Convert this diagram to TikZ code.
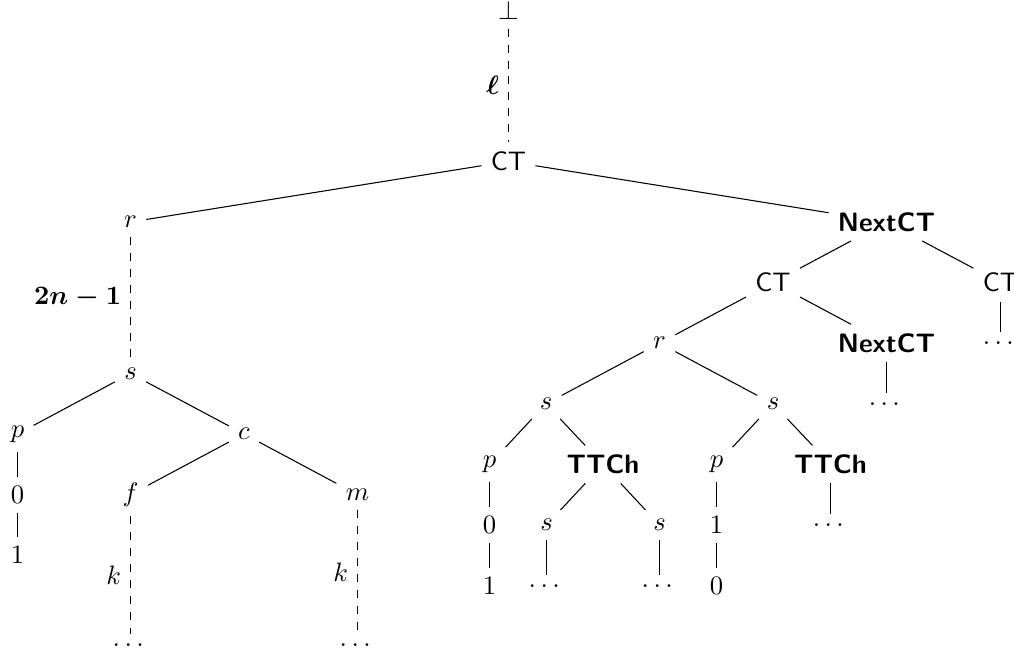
\documentclass[tikz,border=0pt]{standalone}
\usepackage{amsmath}
\newcommand{\tdots}{.\kern\fontdimen3\font.\kern\fontdimen3\font.\kern\fontdimen3\font}
\begin{document}
\begin{tikzpicture}[x=0.3755pt,y=-0.3755pt,
  sf/.style={font=\sffamily},
  bsf/.style={font=\sffamily\bfseries},
  dedge/.style={dashed},
  lab/.style={midway,left}]
\useasboundingbox (0,0) rectangle (1014,653);
% left part
\node (bot) at (508.5,9.9) {$\bot$};
\node[sf] (ct0) at (508.5,161.4) {CT};
\node (r1) at (130.5,222) {$r$};
\node[bsf] (nct1) at (886.5,222) {NextCT};
\node (s1) at (130.5,373.5) {$s$};
\node (p1) at (17.5,434) {$p$};
\node (c1) at (244,434) {$c$};
\node (z1) at (17.5,494.6) {$0$};
\node (o1) at (17.5,555.2) {$1$};
\node (f1) at (130.5,494.6) {$f$};
\node (m1) at (357.5,494.6) {$m$};
\node (d1) at (130.5,645) {\tdots};
\node (d2) at (357.5,645) {\tdots};
% right part
\node[sf] (ct2) at (773,282.6) {CT};
\node[sf] (ct3) at (1000.5,282.6) {CT};
\node (r2) at (659.5,343.2) {$r$};
\node[bsf] (nct2) at (886.5,343.2) {NextCT};
\node (d3) at (1000.5,343.2) {\tdots};
\node (s2) at (546,403.8) {$s$};
\node (s3) at (773,403.8) {$s$};
\node (d4) at (886.5,403.8) {\tdots};
\node (p2) at (489.5,464.4) {$p$};
\node[bsf] (t1) at (603,464.4) {TTCh};
\node (p3) at (716.5,464.4) {$p$};
\node[bsf] (t2) at (830.5,464.4) {TTCh};
\node (z2) at (489.5,525) {$0$};
\node (s4) at (546.5,525) {$s$};
\node (s5) at (659.5,525) {$s$};
\node (o3) at (716.5,525) {$1$};
\node (d7) at (830.5,525) {\tdots};
\node (o2) at (489.5,585.6) {$1$};
\node (d5) at (546.5,585.6) {\tdots};
\node (d6) at (659.5,585.6) {\tdots};
\node (z3) at (716.5,585.6) {$0$};
% edges
\draw[dedge] (bot) -- node[lab] {$\boldsymbol{\ell}$} (ct0);
\draw (ct0) -- (r1);
\draw (ct0) -- (nct1);
\draw[dedge] (r1) -- node[lab] {$\boldsymbol{2n-1}$} (s1);
\draw (s1) -- (p1);
\draw (s1) -- (c1);
\draw (p1) -- (z1);
\draw (z1) -- (o1);
\draw (c1) -- (f1);
\draw (c1) -- (m1);
\draw[dedge] (f1) -- node[lab] {$k$} (d1);
\draw[dedge] (m1) -- node[lab] {$k$} (d2);
\draw (nct1) -- (ct2);
\draw (nct1) -- (ct3);
\draw (ct3) -- (d3);
\draw (ct2) -- (r2);
\draw (ct2) -- (nct2);
\draw (nct2) -- (d4);
\draw (r2) -- (s2);
\draw (r2) -- (s3);
\draw (s2) -- (p2);
\draw (s2) -- (t1);
\draw (p2) -- (z2);
\draw (z2) -- (o2);
\draw (t1) -- (s4);
\draw (t1) -- (s5);
\draw (s4) -- (d5);
\draw (s5) -- (d6);
\draw (s3) -- (p3);
\draw (s3) -- (t2);
\draw (p3) -- (o3);
\draw (o3) -- (z3);
\draw (t2) -- (d7);
\end{tikzpicture}
\end{document}
